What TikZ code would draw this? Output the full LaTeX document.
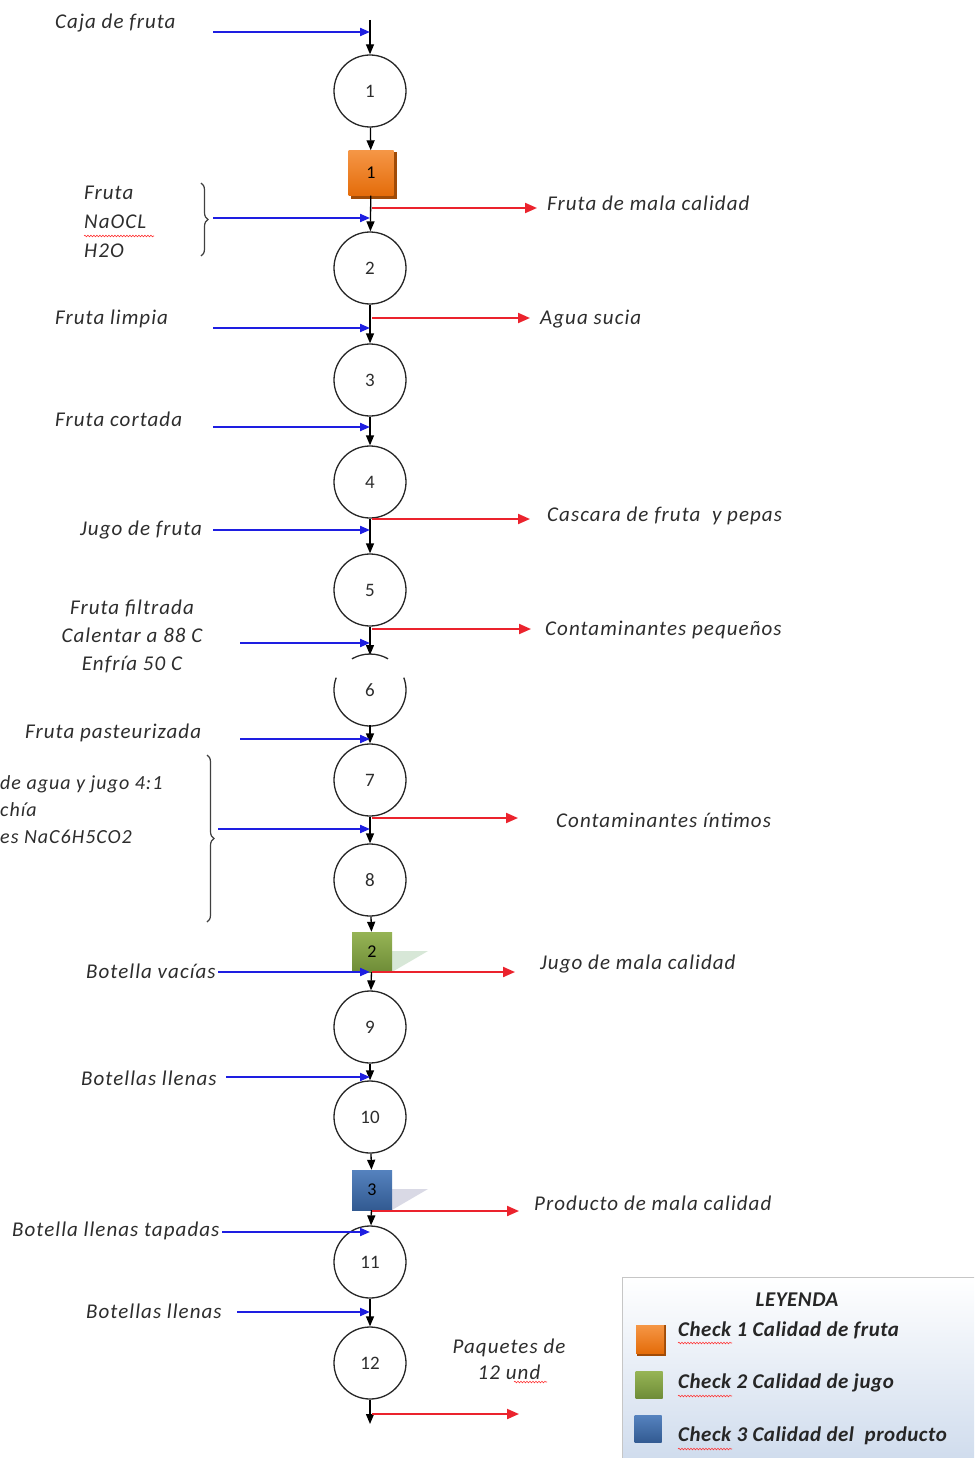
\documentclass[tikz,border=0pt]{standalone}
\usepackage{fontspec}
\setmainfont{Carlito}
\newfontfamily\lblfont{Carlito}[LetterSpace=5]
\newfontfamily\legfont{Carlito}[LetterSpace=2.5]
\usetikzlibrary{arrows.meta,decorations.pathreplacing,decorations.pathmorphing}

\definecolor{inblue}{RGB}{30,30,225}
\definecolor{outred}{RGB}{235,35,45}
\definecolor{txt}{RGB}{45,45,45}
\definecolor{chkorange}{RGB}{228,108,10}
\definecolor{chkorangelt}{RGB}{245,150,70}
\definecolor{chkgreen}{RGB}{110,140,55}
\definecolor{chkgreenlt}{RGB}{150,180,85}
\definecolor{chkblue}{RGB}{50,90,145}
\definecolor{chkbluelt}{RGB}{85,130,190}
\definecolor{legendbot}{RGB}{205,218,236}

\begin{document}
\begin{tikzpicture}[x=1pt,y=-1pt,
  proc/.style={circle,draw=black!85,line width=1.3pt,minimum size=72pt,inner sep=0pt,
    font=\fontsize{19}{21}\selectfont,text=txt,fill=white},
  chk/.style={rectangle,minimum size=#1,inner sep=0pt,font=\fontsize{18}{20}\selectfont},
  flow/.style={-{Triangle[length=10pt,width=8pt]},line width=1.3pt,black},
  inflow/.style={-{Triangle[length=10pt,width=8pt]},line width=2pt,inblue},
  outflow/.style={-{Triangle[length=12pt,width=10pt]},line width=2pt,outred},
  lbl/.style={font=\lblfont\fontsize{21}{25}\selectfont\itshape,text=txt,inner sep=0pt},
  leg/.style={font=\legfont\fontsize{21}{25}\selectfont\bfseries\itshape,text=black!85,inner sep=0pt},
  squiggle/.style={red!80,line width=0.6pt,decorate,decoration={snake,amplitude=0.8pt,segment length=3pt}},
  bracket/.style={draw=black!75,line width=1.2pt,decorate,decoration={brace,amplitude=7pt}}
]
\clip (0,0) rectangle (974,1458);
\fill[white] (0,0) rectangle (974,1458);

% ---------- process steps ----------
\node[proc] (c1) at (370,91) {1};
\fill[chkorange!70!black] (351,152) rectangle (397,199);
\node[chk=45pt,top color=chkorangelt,bottom color=chkorange] (q1) at (371,173) {1};
\node[proc] (c2) at (370,268) {2};
\node[proc] (c3) at (370,380) {3};
\node[proc] (c4) at (370,482) {4};
\node[proc] (c5) at (370,590) {5};
\node[proc,draw=none,fill=none] (c6) at (370,690) {6};
\draw[black!85,line width=1.3pt] (c6.center) ++(200:36) arc[start angle=200,end angle=-20,radius=36];
\draw[black!85,line width=1.3pt] (c6.center) ++(240:36) arc[start angle=240,end angle=300,radius=36];
\node[proc] (c7) at (370,780) {7};
\node[proc] (c8) at (370,880) {8};
\fill[green!25!gray!25] (392,951) -- (428,951) -- (392,972) -- cycle;
\node[chk=40pt,top color=chkgreenlt,bottom color=chkgreen] (q2) at (372,952) {2};
\node[proc] (c9) at (370,1027) {9};
\node[proc] (c10) at (370,1117) {10};
\fill[blue!20!gray!25] (392,1189) -- (428,1189) -- (392,1210) -- cycle;
\node[chk=40pt,top color=chkbluelt,bottom color=chkblue] (q3) at (372,1190) {3};
\node[proc] (c11) at (370,1262) {11};
\node[proc] (c12) at (370,1363) {12};

\coordinate (start) at (370,20);
\coordinate (finish) at (370,1424);

% ---------- main line ----------
\draw[flow] (start) -- (c1);
\draw[flow] (c1) -- (q1);
\draw[flow] (q1) -- (c2);
\draw[flow] (c2) -- (c3);
\draw[flow] (c3) -- (c4);
\draw[flow] (c4) -- (c5);
\draw[flow] (c5) -- (370,655);
\draw[flow] (370,725) -- (c7);
\draw[flow] (c7) -- (c8);
\draw[flow] (c8) -- (q2);
\draw[flow] (q2) -- (c9);
\draw[flow] (c9) -- (c10);
\draw[flow] (c10) -- (q3);
\draw[flow] (q3) -- (c11);
\draw[flow] (c11) -- (c12);
\draw[flow] (c12) -- (finish);

% ---------- inputs ----------
\foreach \n/\xs/\yy in {i1/213/32, i2/213/218, i3/213/328, i4/213/427, i5/213/530,
    i6/240/643, i7/240/739, i8/218/829, i9/218/972, i10/226/1077, i11/222/1232, i12/237/1312}{
  \coordinate (\n s) at (\xs,\yy);
  \coordinate (\n e) at (370,\yy);
  \draw[inflow] (\n s) -- (\n e);
}

% ---------- outputs ----------
\foreach \n/\xe/\yy in {o1/537/208, o2/530/318, o3/530/519, o4/531/629, o5/518/818,
    o6/515/972, o7/519/1211, o8/519/1414}{
  \coordinate (\n s) at (372,\yy);
  \coordinate (\n e) at (\xe,\yy);
  \draw[outflow] (\n s) -- (\n e);
}

% ---------- input labels ----------
\node[lbl,anchor=west] (t1) at (55,23) {Caja de fruta};
\node[lbl,anchor=west,align=left,font=\lblfont\fontsize{21}{29}\selectfont\itshape] (t2) at (84,222) {Fruta\\NaOCL\\H2O};
\draw[squiggle] (84,236) -- (154,236);
\draw[bracket] (201,183) -- (201,256);
\node[lbl,anchor=west] (t3) at (55,319) {Fruta limpia};
\node[lbl,anchor=west] (t4) at (55,419) {Fruta cortada};
\node[lbl,anchor=west] (t5) at (80,530) {Jugo de fruta};
\node[lbl,align=center,font=\lblfont\fontsize{21}{28}\selectfont\itshape] (t6) at (132,636) {Fruta filtrada\\Calentar a 88 C\\Enfría 50 C};
\node[lbl,anchor=west] (t7) at (25,733) {Fruta pasteurizada};
\node[lbl,anchor=west,align=left,font=\lblfont\fontsize{20}{27}\selectfont\itshape] (t8) at (0,810) {de agua y jugo 4:1\\chía\\es NaC6H5CO2};
\draw[bracket] (207,755) -- (207,922);
\node[lbl,anchor=west] (t9) at (86,971) {Botella vacías};
\node[lbl,anchor=west] (t10) at (81,1078) {Botellas llenas};
\node[lbl,anchor=west] (t11) at (12,1231) {Botella llenas tapadas};
\node[lbl,anchor=west] (t12) at (86,1311) {Botellas llenas};

% ---------- output labels ----------
\node[lbl,anchor=west] (u1) at (547,203) {Fruta de mala calidad};
\node[lbl,anchor=west] (u2) at (540,319) {Agua sucia};
\node[lbl,anchor=west] (u3) at (547,516) {Cascara de fruta~ y pepas};
\node[lbl,anchor=west] (u4) at (545,630) {Contaminantes pequeños};
\node[lbl,anchor=west] (u5) at (556,820) {Contaminantes íntimos};
\node[lbl,anchor=west] (u6) at (540,964) {Jugo de mala calidad};
\node[lbl,anchor=west] (u7) at (534,1203) {Producto de mala calidad};
\node[lbl,align=center,font=\lblfont\fontsize{21}{26}\selectfont\itshape] (u8) at (509,1359) {Paquetes de\\12 und};
\draw[squiggle] (514,1382) -- (547,1382);

% ---------- legend ----------
\draw[draw=gray!45,line width=1pt,top color=white,bottom color=legendbot] (622,1277) rectangle (990,1470);
\node[leg] (lt) at (797,1300) {LEYENDA};
\fill[chkorange!70!black] (637,1325) rectangle (666,1356);
\node[chk=28pt,top color=chkorangelt,bottom color=chkorange] (l1) at (650,1339) {};
\node[chk=27pt,top color=chkgreenlt,bottom color=chkgreen] (l2) at (649,1385) {};
\node[chk=27pt,top color=chkbluelt,bottom color=chkblue] (l3) at (648,1429) {};
\node[leg,anchor=west] (lt1) at (678,1330) {Check 1 Calidad de fruta};
\node[leg,anchor=west] (lt2) at (678,1383) {Check 2 Calidad de jugo};
\node[leg,anchor=west] (lt3) at (678,1436) {Check 3 Calidad del~ producto};
\draw[squiggle] (678,1343) -- (732,1343);
\draw[squiggle] (678,1396) -- (732,1396);
\draw[squiggle] (678,1449) -- (732,1449);
\end{tikzpicture}
\end{document}
